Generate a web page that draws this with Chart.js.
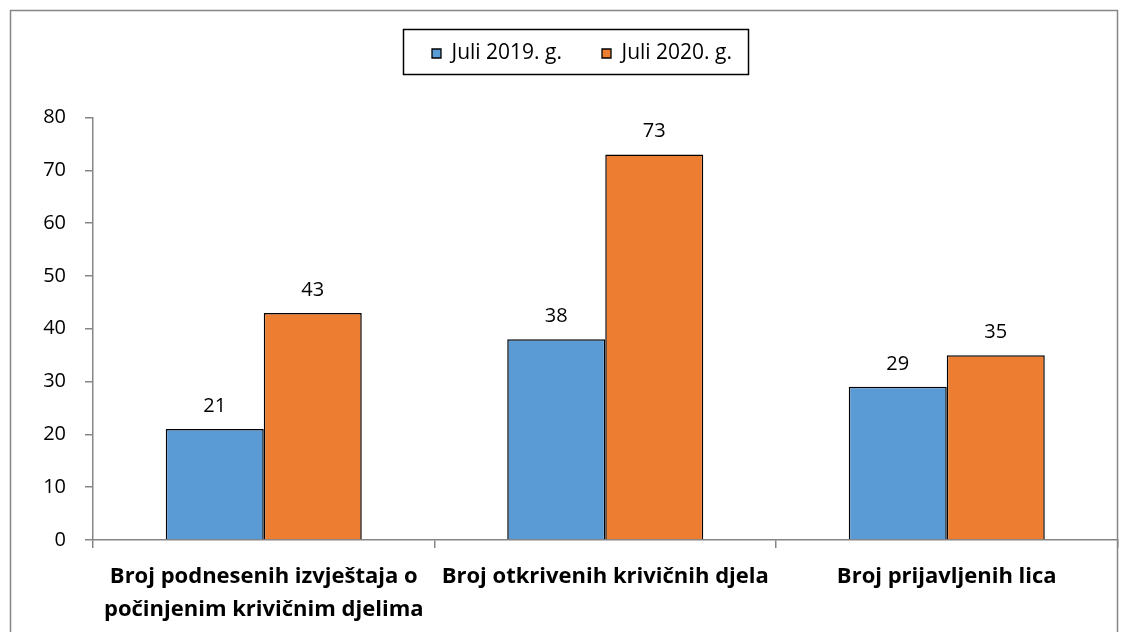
<!DOCTYPE html>
<html>
<head>
<meta charset="utf-8">
<script src="https://cdn.jsdelivr.net/npm/chart.js@4.4.1/dist/chart.umd.min.js"></script>
<style>
html,body{margin:0;padding:0;background:#fff;}
#wrap{position:absolute;left:0;top:0;width:1126px;height:632px;}
</style>
</head>
<body>
<div id="wrap"><canvas id="c" width="1126" height="632"></canvas></div>
<script>
const categories = [["Broj podnesenih izvještaja o", "počinjenim krivičnim djelima"], "Broj otkrivenih krivičnih djela", "Broj prijavljenih lica"];
const seriesNames = ["Juli 2019. g.", "Juli 2020. g."];
const values2019 = [21, 38, 29];
const values2020 = [43, 73, 35];
const yTicks = [0, 10, 20, 30, 40, 50, 60, 70, 80];

const FONT = "'Open Sans', Lato, sans-serif";
const AXIS = "#868686";
const LEGEND_SHIFT = 4.25;

const frame = {
  id: 'frame',
  afterLayout(chart) {
    const lg = chart.legend;
    if (lg) { lg.left += LEGEND_SHIFT; lg.right += LEGEND_SHIFT; }
  },
  afterDraw(chart) {
    const ctx = chart.ctx;
    ctx.save();
    ctx.strokeStyle = AXIS;
    ctx.lineWidth = 1.5;
    ctx.strokeRect(10.5, 10.5, 1107, 700);
    // legend border
    const lg = chart.legend;
    if (lg && lg.legendHitBoxes && lg.legendHitBoxes.length) {
      const hb = lg.legendHitBoxes;
      const l = hb[0].left - 29;
      const r = hb[hb.length - 1].left + hb[hb.length - 1].width + 16;
      ctx.strokeStyle = "#000";
      ctx.lineWidth = 1.5;
      ctx.strokeRect(Math.round(l) + 0.5, 29.5, Math.round(r - l), 45);
    }
    // data labels
    ctx.fillStyle = "#000";
    ctx.font = "20px " + FONT;
    ctx.textAlign = "center";
    ctx.textBaseline = "alphabetic";
    chart.data.datasets.forEach((ds, di) => {
      const meta = chart.getDatasetMeta(di);
      meta.data.forEach((el, i) => {
        ctx.fillText(String(ds.data[i]), el.x, el.y - 17);
      });
    });
    ctx.restore();
  }
};

new Chart(document.getElementById('c'), {
  type: 'bar',
  data: {
    labels: categories,
    datasets: [
      { label: seriesNames[0], data: values2019, backgroundColor: "#5B9BD5", borderColor: "#000", borderWidth: 1.5 },
      { label: seriesNames[1], data: values2020, backgroundColor: "#ED7D31", borderColor: "#000", borderWidth: 1.5 }
    ]
  },
  options: {
    responsive: false,
    animation: false,
    devicePixelRatio: 1,
    layout: { padding: { left: 38, right: 8.5, top: 3, bottom: 0 } },
    plugins: {
      legend: {
        position: 'top',
        labels: {
          color: "#000",
          font: { family: FONT, size: 21 },
          boxWidth: 9, boxHeight: 9,
          padding: 40,
          generateLabels(chart) {
            return chart.data.datasets.map((ds, i) => ({
              text: ds.label, fillStyle: ds.backgroundColor, strokeStyle: "#000",
              lineWidth: 1.3, hidden: false, datasetIndex: i
            }));
          }
        }
      },
      title: {
        display: true, text: ' ', weight: 500, padding: 0,
        font: { size: 43.5, lineHeight: 1 }
      },
      tooltip: { enabled: false }
    },
    datasets: { bar: { barPercentage: 1, categoryPercentage: 0.574 } },
    scales: {
      x: {
        afterFit(s) { s.height = 92; },
        grid: { display: true, drawOnChartArea: false, drawTicks: true, tickLength: 8, color: AXIS, lineWidth: 1.5, offset: true },
        border: { display: true, color: AXIS, width: 1.5 },
        ticks: { color: "#000", font: { family: FONT, size: 22, weight: 'bold', lineHeight: 1.5 }, padding: 12, maxRotation: 0, autoSkip: false }
      },
      y: {
        min: 0, max: 80,
        afterFit(s) { s.width = 55; },
        afterBuildTicks(s) { s.ticks = yTicks.map(v => ({ value: v })); },
        grid: { display: true, drawOnChartArea: false, drawTicks: true, tickLength: 8, color: AXIS, lineWidth: 1.5 },
        border: { display: true, color: AXIS, width: 1.5 },
        ticks: { color: "#000", font: { family: FONT, size: 20 }, padding: 19 }
      }
    }
  },
  plugins: [frame]
});
</script>
</body>
</html>
